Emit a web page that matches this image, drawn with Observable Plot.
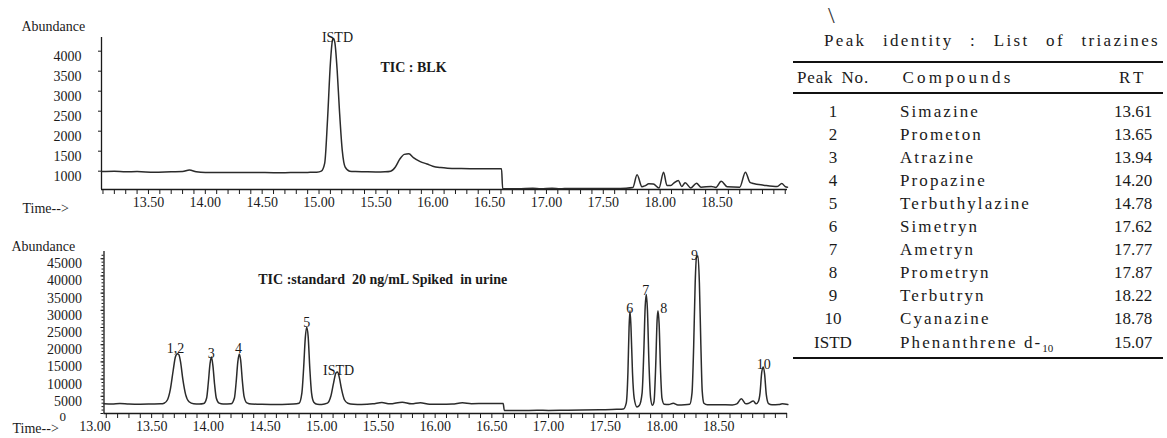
<!DOCTYPE html>
<html>
<head>
<meta charset="utf-8">
<script src="https://cdn.jsdelivr.net/npm/d3@7"></script>
<script src="https://cdn.jsdelivr.net/npm/@observablehq/plot@0.6"></script>
<style>
  html, body { margin: 0; padding: 0; background: #fff; }
  #wrap { position: relative; width: 1167px; height: 438px; overflow: hidden; font-family: "Liberation Serif", "Tinos", "Times New Roman", serif; color: #1a1a1a; }
  #top { position: absolute; left: 0; top: 0; }
  #bot { position: absolute; left: 0; top: 215px; }
  .rule { position: absolute; left: 793px; width: 370px; height: 2px; background: #111; }
  .cell { position: absolute; font-family: "Liberation Serif", "Tinos", "Times New Roman", serif; font-size: 17px; white-space: nowrap; }
  .c1 { left: 793px; width: 80px; text-align: center; }
  .c2 { left: 900px; text-align: left; }
  .c3 { left: 1093px; width: 80px; text-align: center; }
  sub { font-size: 11px; vertical-align: -4px; letter-spacing: 0; }
</style>
</head>
<body>
<div id="wrap">
  <div id="top"></div>
  <div id="bot"></div>
  <div id="tbl"></div>
</div>
<script>
// ---------------- DATA ----------------
// Top chromatogram: TIC : BLK  (time in min, abundance)
const blkTime = [13.09,13.20,13.30,13.40,13.55,13.70,13.80,13.86,13.92,14.00,14.15,14.30,14.45,14.60,14.75,14.90,14.98,
  15.02,15.05,15.075,15.10,15.117,15.127,15.14,15.16,15.18,15.205,15.23,15.27,15.32,15.40,15.50,15.58,15.63,
  15.67,15.71,15.75,15.79,15.83,15.89,15.95,16.00,16.07,16.13,16.25,16.40,16.605,
  16.615,16.75,16.88,16.95,17.05,17.12,17.20,17.30,17.45,17.60,17.70,17.76,17.797,17.84,17.87,17.90,17.94,17.99,
  18.03,18.06,18.09,18.12,18.16,18.19,18.22,18.27,18.32,18.36,18.45,18.49,18.537,18.59,18.70,18.75,18.79,18.82,
  18.91,19.03,19.07,19.10,19.12];
const blkAbund = [990,1000,985,990,975,985,990,1030,985,965,970,965,968,960,965,970,975,
  1000,1200,2300,3700,4250,4320,4200,3500,2500,1500,1100,1000,990,985,980,985,1000,
  1100,1300,1420,1435,1340,1240,1180,1125,1090,1075,1065,1060,1060,
  560,560,575,560,575,560,570,565,570,570,575,590,910,610,640,685,680,580,
  975,640,640,700,767,615,710,580,700,600,620,595,750,610,600,975,720,690,
  650,615,690,615,600];

// Bottom chromatogram: TIC standard 20 ng/mL spiked in urine
const stdTime = [13.08,13.15,13.22,13.30,13.40,13.50,13.58,
  13.61,13.64,13.665,13.69,13.71,13.727,13.74,13.755,13.775,13.80,13.83,13.87,13.92,
  13.96,13.985,14.00,14.015,14.027,14.04,14.055,14.07,14.095,14.13,
  14.20,14.23,14.245,14.26,14.273,14.285,14.30,14.315,14.34,14.38,
  14.45,14.55,14.65,14.75,
  14.80,14.825,14.84,14.855,14.867,14.88,14.895,14.91,14.93,14.96,
  15.00,15.05,15.08,15.105,15.125,15.14,15.155,15.175,15.20,15.23,15.28,
  15.35,15.45,15.53,15.60,15.71,15.79,15.87,15.95,16.05,16.15,16.24,16.32,16.45,16.60,
  16.61,16.75,16.90,17.00,17.15,17.30,17.45,17.60,17.66,
  17.685,17.70,17.71,17.718,17.727,17.74,17.755,17.78,
  17.80,17.825,17.84,17.852,17.862,17.872,17.885,17.90,17.915,
  17.93,17.945,17.957,17.965,17.975,17.988,18.00,18.02,
  18.06,18.10,18.14,18.20,
  18.245,18.265,18.28,18.293,18.305,18.318,18.33,18.343,18.355,18.37,18.40,
  18.50,18.62,18.66,18.70,18.74,18.76,18.806,18.83,18.85,
  18.865,18.88,18.894,18.905,18.92,18.94,18.97,
  19.03,19.06,19.11];
const stdAbund = [2800,2750,2900,2750,2700,2750,2800,
  3000,4000,7000,12500,16500,17400,17100,15000,10000,5500,3400,2800,2750,
  2900,4500,9000,14500,16400,14000,8500,4500,3000,2750,
  2800,4500,9000,15000,17300,15500,9500,5000,3100,2750,
  2700,2650,2650,2750,
  3000,6000,13000,22000,25100,22500,13000,6000,3300,2700,
  2650,3000,5000,9000,11800,12100,10500,7000,4000,3000,2700,
  2650,2800,3200,2800,3300,2800,3100,2700,2700,2750,3100,2850,2900,2900,
  900,850,950,900,950,1000,1100,1200,1300,
  3000,12000,25000,29900,25000,12000,4500,1900,
  2300,6000,18000,31000,34600,30000,15000,4500,2400,
  3500,14000,27000,29900,26000,12000,4500,2700,
  2600,3000,2500,2550,
  2700,6000,20000,38000,45500,45800,38000,20000,6500,3000,2550,
  2550,2500,2800,4300,2800,2900,3600,2800,3500,
  6000,12000,13500,11500,5500,2900,2550,
  2600,2800,2600];

// Tick labels
const blkXTicks = [13.5,14.0,14.5,15.0,15.5,16.0,16.5,17.0,17.5,18.0,18.5];
const stdXTicks = [13.0,13.5,14.0,14.5,15.0,15.5,16.0,16.5,17.0,17.5,18.0,18.5];
const blkYTicks = [1000,1500,2000,2500,3000,3500,4000];
const stdYTicks = [0,5000,10000,15000,20000,25000,30000,35000,40000,45000];

// Peak annotations (label, retention time, abundance)
const blkPeakLabels = ["ISTD"];
const blkPeakTime = [15.162];
const blkPeakAbund = [4350];
const stdPeakLabels = ["1,2","3","4","5","ISTD","6","7","8","9","10"];
const stdPeakTime = [13.71,14.026,14.267,14.867,15.149,17.715,17.856,18.015,18.288,18.897];
const stdPeakAbund = [18870,17420,18960,26510,12490,30490,35710,30490,45880,14230];

// Chart titles
const blkTitle = "TIC : BLK";
const stdTitle = "TIC :standard  20 ng/mL Spiked  in urine";

// Table
const tableTitle = "Peak identity : List of triazines";
const tableHeaders = ["Peak No.", "Compounds", "RT"];
const peakNos = ["1","2","3","4","5","6","7","8","9","10","ISTD"];
const compounds = ["Simazine","Prometon","Atrazine","Propazine","Terbuthylazine","Simetryn","Ametryn","Prometryn","Terbutryn","Cyanazine","Phenanthrene d-{10}"];
const rts = ["13.61","13.65","13.94","14.20","14.78","17.62","17.77","17.87","18.22","18.78","15.07"];

// ---------------- DRAW ----------------
const FONT = "'Liberation Serif', Tinos, 'Times New Roman', serif";
const INK = "#1a1a1a";
const fmtY = d3.format("d");

function chromatogram(opts) {
  const {times, abunds, xDomain, yDomain, xTicks, yTicks, yMinor, width, height, mt, mb, ml, mr,
         labels, labelT, labelA, title, titleT, titleA, abDx, abDy, timeDx, timeDy, yPad} = opts;
  const pts = times.map((t, i) => ({t, a: abunds[i]}));
  const minor = d3.range(131, 192).map(d => d / 10).filter(d => d >= xDomain[0] && d <= xDomain[1]);
  const yLab = yTicks.filter(d => d !== 0);
  const yZero = yTicks.filter(d => d === 0);
  const marks = [
    Plot.axisX(minor, {tickSize: 5, tickFormat: () => "", stroke: INK, strokeWidth: 1, label: null}),
    Plot.axisX(xTicks, {tickSize: 0, tickPadding: 8, tickFormat: d => d.toFixed(2), fontSize: 14, label: null}),
  ];
  if (yMinor) marks.push(Plot.axisY(yMinor, {tickSize: 2, tickFormat: () => "", stroke: INK, label: null}));
  marks.push(
    Plot.axisY(yTicks, {tickSize: 3, tickFormat: () => "", stroke: INK, label: null}),
    Plot.axisY(yLab, {tickSize: 0, tickPadding: yPad, dy: 5, fontSize: 14, tickFormat: fmtY, label: null})
  );
  if (yZero.length) marks.push(
    Plot.axisY(yZero, {tickSize: 0, tickPadding: yPad + 16, dy: 3, fontSize: 13, tickFormat: fmtY, label: null})
  );
  marks.push(
    Plot.ruleX([xDomain[0]], {stroke: INK, strokeWidth: 1.3}),
    Plot.ruleY([yDomain[0]], {stroke: INK, strokeWidth: 1.3}),
    Plot.line(pts, {x: "t", y: "a", curve: "monotone-x", stroke: "#2b2b2b", strokeWidth: 1.5}),
    Plot.text(labels, {x: labelT, y: labelA, text: d => d, fontSize: 14, fill: INK}),
    Plot.text([title], {x: [titleT], y: [titleA], text: d => d, textAnchor: "start", fontSize: 14, fontWeight: "bold", fill: INK}),
    Plot.text(["Abundance"], {frameAnchor: "top-left", dx: abDx, dy: abDy, textAnchor: "start", fontSize: 14, fill: INK}),
    Plot.text(["Time-->"], {frameAnchor: "bottom-left", dx: timeDx, dy: timeDy, textAnchor: "start", fontSize: 14, fill: INK})
  );
  return Plot.plot({
    width, height,
    marginTop: mt, marginBottom: mb, marginLeft: ml, marginRight: mr,
    style: {fontFamily: FONT, fontSize: "14px", color: INK, background: "transparent", overflow: "visible"},
    x: {domain: xDomain, label: null},
    y: {domain: yDomain, label: null},
    marks
  });
}

document.getElementById("top").appendChild(chromatogram({
  times: blkTime, abunds: blkAbund,
  xDomain: [13.087, 19.12], yDomain: [542, 4342],
  xTicks: blkXTicks, yTicks: blkYTicks, yMinor: null,
  width: 790, height: 215, mt: 37, mb: 26, ml: 101, mr: 3,
  labels: blkPeakLabels, labelT: blkPeakTime, labelA: blkPeakAbund,
  title: blkTitle, titleT: 15.54, titleA: 3600,
  abDx: -80, abDy: -16, timeDx: -79, timeDy: 23, yPad: 20
}));

document.getElementById("bot").appendChild(chromatogram({
  times: stdTime, abunds: stdAbund,
  xDomain: [13.08, 19.107], yDomain: [0, 47100],
  xTicks: stdXTicks, yTicks: stdYTicks, yMinor: d3.range(1000, 47000, 1000),
  width: 790, height: 223, mt: 36, mb: 25, ml: 103.5, mr: 3,
  labels: stdPeakLabels, labelT: stdPeakTime, labelA: stdPeakAbund,
  title: stdTitle, titleT: 14.44, titleA: 38900,
  abDx: -92.5, abDy: -10, timeDx: -91.5, timeDy: 19, yPad: 22
}));

// Table
const tbl = document.getElementById("tbl");
function el(cls, top, html, extra) {
  const d = document.createElement("div");
  d.className = cls;
  d.style.top = top + "px";
  if (extra) Object.assign(d.style, extra);
  d.innerHTML = html;
  tbl.appendChild(d);
  return d;
}
// Measure text width in the page font and return a letter-spacing that
// spreads it to a target width (the reference face is wider than Times).
function spreadTo(html, targetW, ws) {
  const probe = document.createElement("span");
  probe.className = "cell";
  probe.style.visibility = "hidden";
  probe.style.wordSpacing = (ws || 0) + "px";
  probe.innerHTML = html;
  tbl.appendChild(probe);
  const w = probe.getBoundingClientRect().width;
  probe.remove();
  const n = html.replace(/<[^>]+>/g, "").length;
  return Math.max(0, (targetW - w) / n);
}
el("cell", 1, "\\", {left: "828px", fontSize: "24px", lineHeight: "28px", color: "#333"});
const titleLs = spreadTo(tableTitle, 336, 10);
el("cell", 30, tableTitle, {left: "807px", width: "370px", textAlign: "center", lineHeight: "22px", letterSpacing: titleLs + "px", wordSpacing: "10px"});
el("rule", 61, "");
el("rule", 92, "");
el("rule", 357, "");
el("cell c1", 63, tableHeaders[0], {lineHeight: "29px", letterSpacing: spreadTo(tableHeaders[0], 72, 3) + "px", wordSpacing: "3px"});
el("cell", 63, tableHeaders[1], {left: "898px", width: "120px", textAlign: "center", lineHeight: "29px", letterSpacing: spreadTo(tableHeaders[1], 111) + "px"});
el("cell c3", 63, tableHeaders[2], {lineHeight: "29px", letterSpacing: spreadTo(tableHeaders[2], 28) + "px"});
const compLs = spreadTo(compounds[4], 131);
peakNos.forEach((p, i) => {
  const top = 99.5 + i * 23.1;
  const lh = {lineHeight: "23px"};
  el("cell c1", top, p, lh);
  el("cell c2", top, compounds[i].replace(/\{(.*?)\}/, "<sub>$1</sub>"), {lineHeight: "23px", letterSpacing: compLs + "px"});
  el("cell c3", top, rts[i], lh);
});
</script>
</body>
</html>
